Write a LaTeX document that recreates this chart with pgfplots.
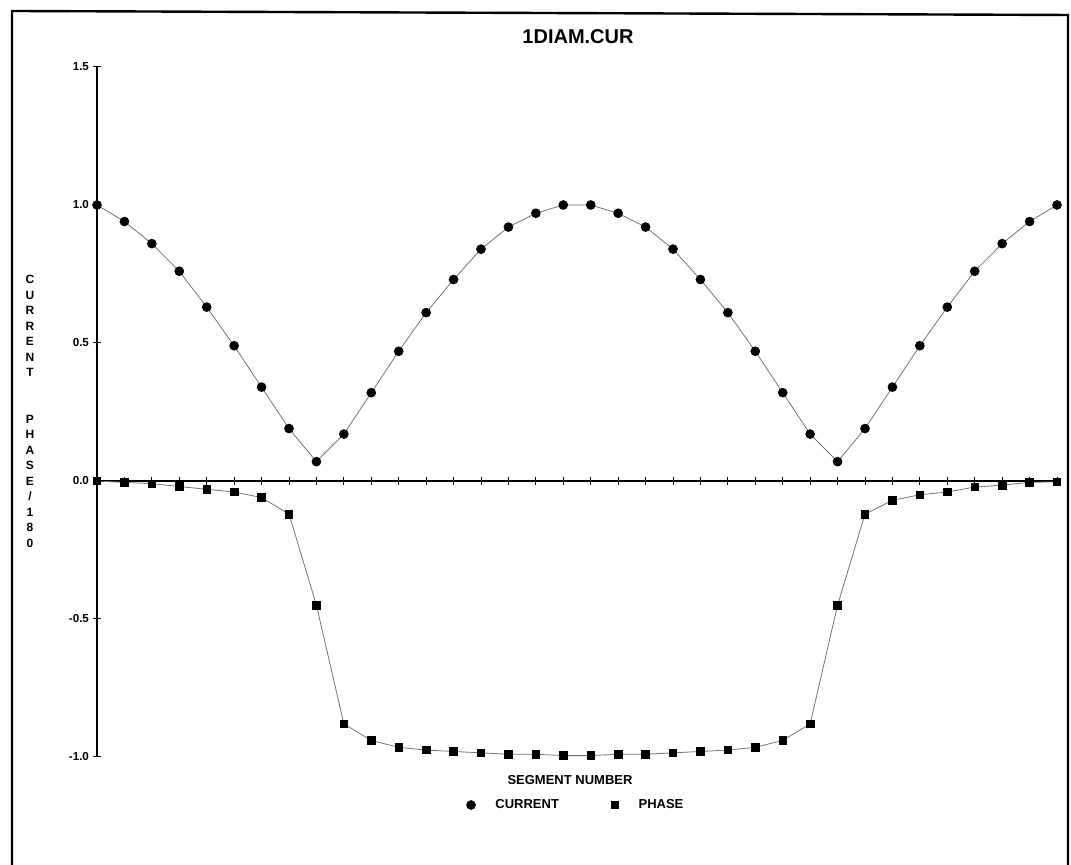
\documentclass[border=0pt]{standalone}
\usepackage{fontspec}
\setmainfont{Liberation Sans}
\usepackage{pgfplots}
\pgfplotsset{compat=1.18}

% current magnitude and phase/180 per segment
\pgfplotstableread{
seg cur phase
1  1.00  0.000
2  0.94 -0.005
3  0.86 -0.010
4  0.76 -0.020
5  0.63 -0.030
6  0.49 -0.040
7  0.34 -0.060
8  0.19 -0.120
9  0.07 -0.450
10 0.17 -0.880
11 0.32 -0.940
12 0.47 -0.965
13 0.61 -0.975
14 0.73 -0.980
15 0.84 -0.985
16 0.92 -0.990
17 0.97 -0.990
18 1.00 -0.995
19 1.00 -0.995
20 0.97 -0.990
21 0.92 -0.990
22 0.84 -0.985
23 0.73 -0.980
24 0.61 -0.975
25 0.47 -0.965
26 0.32 -0.940
27 0.17 -0.880
28 0.07 -0.450
29 0.19 -0.120
30 0.34 -0.070
31 0.49 -0.050
32 0.63 -0.040
33 0.76 -0.022
34 0.86 -0.015
35 0.94 -0.005
36 1.00 -0.003
}\segdata

\begin{document}
\begin{tikzpicture}
\begin{axis}[
  x=13.7143pt, y=138pt,
  xmin=1, xmax=36, ymin=-1, ymax=1.5,
  clip=false,
  axis x line=middle, axis y line=left,
  axis line style={-, line width=0.6pt},
  xtick={1,...,36}, xticklabels={},
  ytick={-1,-0.5,0,0.5,1,1.5},
  tick align=center, major tick length=4pt,
  tick style={black, line width=0.5pt},
  yticklabel style={font=\fontsize{5.8}{7}\selectfont\bfseries, xshift=1.5pt},
  /pgf/number format/fixed, /pgf/number format/fixed zerofill,
  /pgf/number format/precision=1, /pgf/number format/assume math mode=true,
  legend columns=2,
  legend style={at={(0.5,-0.0696)}, anchor=center, draw=none,
    font=\fontsize{6.5}{8}\selectfont\bfseries,
    /tikz/every odd column/.append style={column sep=8pt},
    /tikz/every even column/.append style={column sep=24pt}},
  legend image code/.code={\draw[#1] plot coordinates {(0pt,0pt)};},
]
\addplot[black!55, line width=0.4pt, mark=*, mark size=2.2pt,
  mark options={black, solid}] table[x=seg, y=cur] {\segdata};
\addlegendentry{CURRENT}
\addplot[black!55, line width=0.4pt, mark=square*, mark size=1.9pt,
  mark options={black, solid}] table[x=seg, y=phase] {\segdata};
\addlegendentry{PHASE}
\coordinate (p1) at (axis cs:1,-1);
\end{axis}
% page and surrounding text placed relative to the axis corner (1,-1)
\pgfresetboundingbox
\useasboundingbox ([shift={(-48.5pt,-54pt)}]p1) rectangle ([shift={(487pt,378.5pt)}]p1);
\draw[line width=1.2pt] ([shift={(-42.5pt,-60pt)}]p1) -- ([shift={(-42.5pt,373pt)}]p1)
  -- ([shift={(485.5pt,371pt)}]p1) -- ([shift={(485.5pt,-60pt)}]p1);
\node[font=\fontsize{10}{12}\selectfont\bfseries] at ([shift={(240.5pt,360pt)}]p1) {1DIAM.CUR};
\node[font=\fontsize{6}{7.75}\selectfont\bfseries, align=center] at ([shift={(-33.5pt,172.75pt)}]p1)
  {C\\U\\R\\R\\E\\N\\T\\~\\~\\P\\H\\A\\S\\E\\/\\1\\8\\0};
\node[font=\fontsize{6.5}{8}\selectfont\bfseries] at ([shift={(236.5pt,-11.5pt)}]p1) {SEGMENT NUMBER};
\end{tikzpicture}
\end{document}
